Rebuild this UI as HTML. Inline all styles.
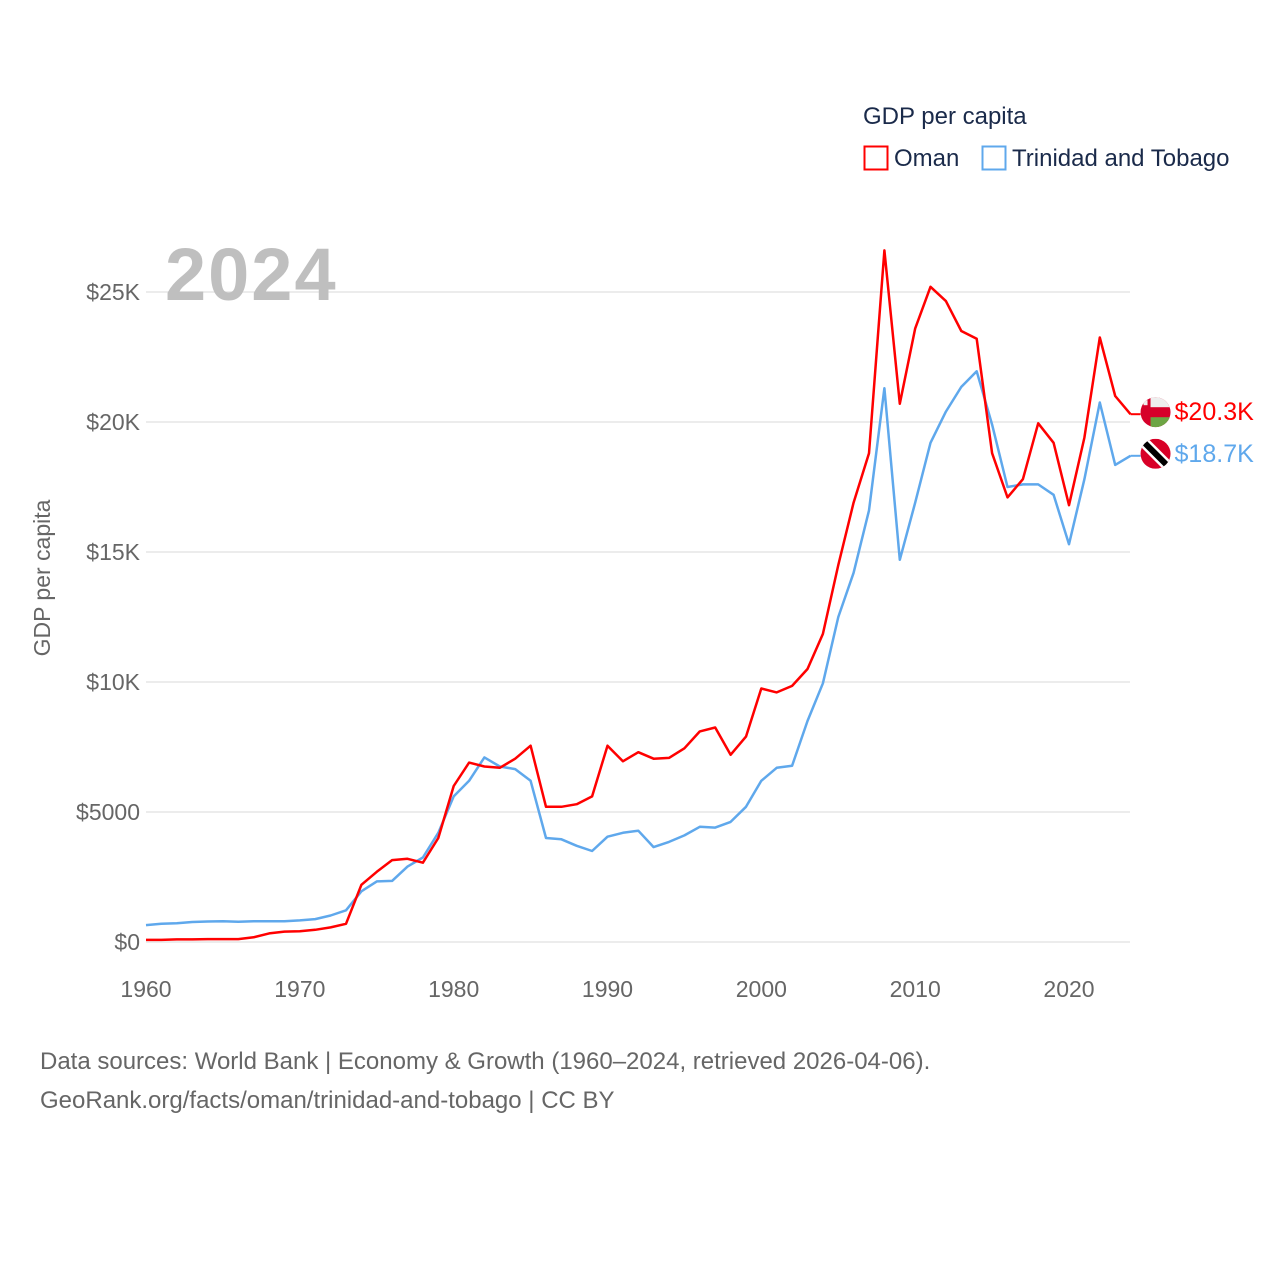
<!DOCTYPE html>
<html><head><meta charset="utf-8">
<style>
body{margin:0;background:#fff;font-family:"Liberation Sans",sans-serif;}
svg text{font-family:"Liberation Sans",sans-serif;}
</style></head>
<body>
<svg id="chart" width="1280" height="1280" viewBox="0 0 1280 1280">
<g id="grid"></g>
<g id="yticks"></g>
<g id="xticks"></g>
<text x="165" y="300" font-size="74" font-weight="bold" letter-spacing="2" fill="#bfbfbf">2024</text>
<text transform="translate(50,578) rotate(-90)" text-anchor="middle" font-size="23" fill="#666">GDP per capita</text>
<g id="series"></g>
<g>
<text x="863" y="124" font-size="24" fill="#1a2a4a">GDP per capita</text>
<g><rect x="864.5" y="146.5" width="23" height="23" fill="none" stroke="#ff0000" stroke-width="2"/><text x="894" y="166" font-size="24" fill="#1a2a4a">Oman</text></g>
<g><rect x="982.5" y="146.5" width="23" height="23" fill="none" stroke="#5fa8ec" stroke-width="2"/><text x="1012" y="166" font-size="24" fill="#1a2a4a">Trinidad and Tobago</text></g>
</g>
<text x="40" y="1069" font-size="24" fill="#666">Data sources: World Bank | Economy &amp; Growth (1960–2024, retrieved 2026-04-06).</text>
<text x="40" y="1108" font-size="24" fill="#666">GeoRank.org/facts/oman/trinidad-and-tobago | CC BY</text>
</svg>
<script>
const years=[];for(let y=1960;y<=2024;y++)years.push(y);
const oman=[80,80,100,100,110,110,110,180,330,400,410,470,560,700,2200,2700,3150,3200,3050,4000,6000,6900,6750,6700,7050,7550,5200,5200,5300,5600,7550,6950,7300,7050,7080,7450,8100,8250,7200,7900,9750,9600,9850,10500,11850,14500,16900,18800,26600,20700,23600,25200,24650,23500,23200,18800,17100,17800,19950,19200,16800,19400,23250,21000,20300];
const tt=[650,700,720,770,790,800,780,800,800,800,830,880,1020,1220,1950,2330,2350,2900,3250,4200,5600,6200,7100,6750,6650,6200,4000,3950,3700,3500,4050,4200,4280,3650,3850,4100,4430,4400,4620,5200,6200,6700,6780,8500,9950,12500,14200,16600,21300,14700,16900,19200,20400,21350,21950,19900,17500,17600,17600,17200,15300,17800,20750,18350,18700];
const yTicks=[0,5000,10000,15000,20000,25000];
const yTickLabels=["$0","$5000","$10K","$15K","$20K","$25K"];
const xTicks=[1960,1970,1980,1990,2000,2010,2020];
const endLabels=["$20.3K","$18.7K"];
const NS="http://www.w3.org/2000/svg";
const X=y=>146+(y-1960)*(1069-146)/60;
const Y=v=>942-v*650/25000;
function mk(tag,attrs,parent){const e=document.createElementNS(NS,tag);for(const k in attrs)e.setAttribute(k,attrs[k]);parent.appendChild(e);return e;}
const grid=document.getElementById('grid'),yt=document.getElementById('yticks'),xt=document.getElementById('xticks'),ser=document.getElementById('series');
yTicks.forEach((v,i)=>{
 const l=mk('line',{x1:146,x2:1130,y1:Y(v),y2:Y(v),stroke:'#e6e6e6','stroke-width':1.5},grid);
 
 
 const t=mk('text',{x:140,y:Y(v)+8,'text-anchor':'end','font-size':23,fill:'#666'},yt);
 t.textContent=yTickLabels[i];
 
 
});
xTicks.forEach(v=>{
 const t=mk('text',{x:X(v),y:997,'text-anchor':'middle','font-size':23,fill:'#666'},xt);
 t.textContent=v;
 
 
});
function line(data,color,name){
 const d=data.map((v,i)=>(i?'L':'M')+X(years[i]).toFixed(1)+','+Y(v).toFixed(1)).join('');
 const p=mk('path',{d:d,fill:'none',stroke:color,'stroke-width':2.5,'stroke-linejoin':'round'},ser);
 
 
}
line(tt,'#5fa8ec','line-trinidad-and-tobago');
line(oman,'#ff0000','line-oman');
const lx=X(2024);
function endMark(v,color,label,name,flag){
 const g=mk('g',{},ser);
 
 
 const cy=Y(v)-2;
 mk('line',{x1:lx,x2:lx+10,y1:Y(v),y2:Y(v),stroke:color,'stroke-width':2},g);
 const cx=lx+25;
 mk('defs',{},g).innerHTML='<clipPath id="c'+name+'"><circle cx="'+cx+'" cy="'+cy+'" r="15"/></clipPath>';
 const f=mk('g',{'clip-path':'url(#c'+name+')'},g);
 f.innerHTML=flag(cx,cy);
 const t=mk('text',{x:lx+44,y:cy+8,'font-size':25,fill:color},g);
 t.textContent=label;
}
endMark(oman[oman.length-1],'#ff0000',endLabels[0],'end-label-oman',(cx,cy)=>
 `<rect x="${cx-15}" y="${cy-15}" width="30" height="30" fill="#d6002a"/><rect x="${cx-5}" y="${cy-15}" width="20" height="10" fill="#eee"/><rect x="${cx-5}" y="${cy+5}" width="20" height="10" fill="#6da544"/><rect x="${cx-12}" y="${cy-12}" width="4" height="5" fill="#eee"/>`);
endMark(tt[tt.length-1],'#5fa8ec',endLabels[1],'end-label-trinidad',(cx,cy)=>
 `<rect x="${cx-15}" y="${cy-15}" width="30" height="30" fill="#d80027"/><line x1="${cx-15}" y1="${cy-15}" x2="${cx+15}" y2="${cy+15}" stroke="#fff" stroke-width="11"/><line x1="${cx-15}" y1="${cy-15}" x2="${cx+15}" y2="${cy+15}" stroke="#000" stroke-width="6"/>`);
</script>
</body></html>
